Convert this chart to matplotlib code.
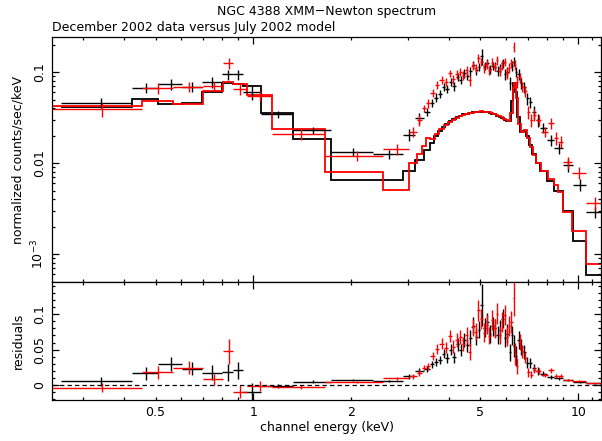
#!/usr/bin/env python3
"""
NGC 4388 XMM-Newton spectrum: December 2002 data folded through the
July 2002 model, with data-minus-model residuals underneath.
"""

import numpy as np
import matplotlib.pyplot as plt
from matplotlib.ticker import FixedLocator, FixedFormatter, LogLocator, NullFormatter, MultipleLocator

# Spectrum 1 (black): channel bin edges (keV), rate, 1-sigma error, model
black_edges = [0.256, 0.4225, 0.510, 0.602, 0.694, 0.799, 0.868, 0.932, 1.054, 1.322,
               1.730, 2.330, 2.882, 3.14, 3.35,
               3.50, 3.60, 3.70, 3.80, 3.90, 4.00, 4.10, 4.20, 4.30, 4.40,
               4.50, 4.60, 4.70, 4.80, 4.90, 5.00, 5.10, 5.20, 5.30, 5.40,
               5.50, 5.60, 5.70, 5.80, 5.90, 6.00, 6.10, 6.20, 6.30, 6.40,
               6.50, 6.60, 6.75, 6.90, 7.05, 7.20, 7.40,
               7.60, 8.00, 8.45, 8.99, 9.65, 10.6, 11.9]
black_rate = [0.0463, 0.0677, 0.0738, 0.0695, 0.0788, 0.095, 0.095, 0.0612, 0.0346, 0.0232,
              0.0134, 0.01265, 0.0205, 0.0313, 0.0369,
              0.046, 0.0526, 0.058, 0.0695, 0.066, 0.079, 0.070, 0.0895, 0.083, 0.0975,
              0.092, 0.102, 0.1203, 0.105, 0.1153, 0.150, 0.118, 0.1256, 0.108, 0.118,
              0.1153, 0.104, 0.1107, 0.125, 0.096, 0.1016, 0.0757, 0.118, 0.1307, 0.1016,
              0.096, 0.0757, 0.069, 0.0518, 0.047, 0.0369, 0.0299,
              0.0245, 0.018, 0.0146, 0.0096, 0.0058, 0.0029]
black_err = [0.006, 0.009, 0.010, 0.0094, 0.011, 0.012, 0.012, 0.012, 0.003, 0.002,
             0.0015, 0.0015, 0.003, 0.004, 0.004,
             0.005, 0.006, 0.006, 0.007, 0.007, 0.008, 0.008, 0.009, 0.009, 0.010,
             0.010, 0.011, 0.012, 0.012, 0.012, 0.030, 0.013, 0.013, 0.013, 0.013,
             0.013, 0.013, 0.013, 0.014, 0.013, 0.013, 0.012, 0.014, 0.015, 0.014,
             0.013, 0.011, 0.010, 0.008, 0.007, 0.006, 0.005,
             0.003, 0.0025, 0.002, 0.0015, 0.0009, 0.0004]
black_model = [0.0412, 0.0513, 0.0445, 0.0464, 0.0612, 0.0769, 0.0743, 0.0707, 0.0355, 0.0185,
               0.00656, 0.00656, 0.0083, 0.0108, 0.014,
               0.0167, 0.0199, 0.0225, 0.0250, 0.0272, 0.0292, 0.0308, 0.0322, 0.0334, 0.0344,
               0.0352, 0.0359, 0.0364, 0.0368, 0.0370, 0.0370, 0.0368, 0.0364, 0.0359, 0.0352,
               0.0344, 0.0334, 0.0323, 0.0311, 0.0298, 0.0290, 0.0295, 0.0480, 0.0757, 0.0600,
               0.0320, 0.0218, 0.0228, 0.0200, 0.0160, 0.0125, 0.0100,
               0.0082, 0.0064, 0.0049, 0.0030, 0.00141, 0.00059]

# Spectrum 2 (red)
red_edges = [0.23, 0.4535, 0.5675, 0.700, 0.809, 0.868, 0.954, 1.139, 1.662, 2.512,
             3.02, 3.183, 3.30, 3.40,
             3.50, 3.62, 3.74, 3.86, 3.98, 4.08, 4.18, 4.28, 4.38, 4.48,
             4.58, 4.68, 4.78, 4.88, 4.98, 5.08, 5.18, 5.28, 5.38, 5.48,
             5.58, 5.68, 5.78, 5.88, 5.98, 6.08, 6.18, 6.28, 6.36, 6.44,
             6.54, 6.66, 6.80, 6.95, 7.10, 7.25,
             7.40, 7.70, 8.05, 8.40, 8.65, 9.00, 9.55, 10.6, 11.9]
red_rate = [0.0392, 0.0667, 0.0695, 0.071, 0.1256, 0.065, 0.0549, 0.021, 0.0120, 0.01435,
            0.0222, 0.030, 0.0402, 0.0456,
            0.0597, 0.0725, 0.0823, 0.079, 0.0975, 0.084, 0.095, 0.100, 0.092, 0.105,
            0.0823, 0.118, 0.112, 0.1425, 0.130, 0.111, 0.122, 0.106, 0.128, 0.115,
            0.135, 0.104, 0.121, 0.130, 0.098, 0.112, 0.125, 0.191, 0.120, 0.079,
            0.088, 0.0695, 0.062, 0.0369, 0.0299, 0.034,
            0.0299, 0.0222, 0.0275, 0.0188, 0.0173, 0.0102, 0.0079, 0.0037]
red_err = [0.0066, 0.0087, 0.009, 0.008, 0.0176, 0.009, 0.007, 0.003, 0.0015, 0.002,
           0.003, 0.004, 0.004, 0.005,
           0.006, 0.007, 0.008, 0.008, 0.009, 0.009, 0.010, 0.010, 0.010, 0.011,
           0.012, 0.012, 0.012, 0.015, 0.014, 0.013, 0.013, 0.012, 0.014, 0.013,
           0.015, 0.013, 0.014, 0.014, 0.013, 0.014, 0.015, 0.026, 0.015, 0.011,
           0.011, 0.009, 0.008, 0.006, 0.005, 0.005,
           0.004, 0.003, 0.004, 0.003, 0.0025, 0.0016, 0.0012, 0.0006]
red_model = [0.043, 0.0488, 0.0452, 0.0628, 0.0777, 0.0743, 0.0563, 0.0238, 0.00796, 0.00509,
             0.0100, 0.0127, 0.0156, 0.0188,
             0.0185, 0.0212, 0.0240, 0.0264, 0.0284, 0.0300, 0.0315, 0.0327, 0.0338, 0.0347,
             0.0355, 0.0361, 0.0366, 0.0369, 0.0371, 0.0370, 0.0367, 0.0362, 0.0356, 0.0349,
             0.0340, 0.0330, 0.0319, 0.0307, 0.0296, 0.0289, 0.0360, 0.0680, 0.0760, 0.0520,
             0.0270, 0.0220, 0.0232, 0.0190, 0.0150, 0.0122,
             0.0100, 0.0082, 0.0068, 0.0058, 0.0048, 0.0029, 0.00178, 0.00079]

SPECTRA = [
    (black_edges, black_rate, black_err, black_model, "black"),
    (red_edges, red_rate, red_err, red_model, "#ff0000"),
]

W, H = 602, 441
X0, X1 = 52, 601
TOP_Y0, SPLIT_Y, BOT_Y1 = 37, 282, 400


def style_axis(ax):
    ax.set_xscale("log")
    ax.set_xlim(0.24, 11.75)
    ax.tick_params(which="both", direction="in", top=True, right=True,
                   width=0.9, labelsize=9, pad=4)
    ax.tick_params(which="major", length=5)
    ax.tick_params(which="minor", length=2.5)
    for s in ax.spines.values():
        s.set_linewidth(0.9)
    ax.xaxis.set_major_locator(FixedLocator([1, 10]))
    ax.xaxis.set_minor_locator(FixedLocator(
        [0.3, 0.4, 0.5, 0.6, 0.7, 0.8, 0.9, 2, 3, 4, 5, 6, 7, 8, 9, 11]))


def main():
    fig = plt.figure(figsize=(W / 100, H / 100), dpi=100)
    ax = fig.add_axes([X0 / W, 1 - SPLIT_Y / H, (X1 - X0) / W, (SPLIT_Y - TOP_Y0) / H])
    axr = fig.add_axes([X0 / W, 1 - BOT_Y1 / H, (X1 - X0) / W, (BOT_Y1 - SPLIT_Y) / H])

    for edges, rate, err, model, color in SPECTRA:
        edges = np.asarray(edges)
        rate = np.asarray(rate)
        err = np.asarray(err)
        model = np.asarray(model)
        lo, hi = edges[:-1], edges[1:]
        mid = 0.5 * (lo + hi)
        xerr = [mid - lo, hi - mid]

        ax.errorbar(mid, rate, xerr=xerr, yerr=err, fmt="none",
                    ecolor=color, elinewidth=1.0, capsize=0)
        ax.stairs(model, edges, baseline=None, color=color, lw=1.3)

        axr.errorbar(mid, rate - model, xerr=xerr, yerr=err, fmt="none",
                     ecolor=color, elinewidth=1.0, capsize=0)

    # upper panel
    style_axis(ax)
    ax.set_yscale("log")
    ax.set_ylim(4.96e-4, 0.244)
    ax.yaxis.set_major_locator(FixedLocator([1e-3, 1e-2, 1e-1]))
    ax.yaxis.set_major_formatter(FixedFormatter(["10$^{-3}$", "0.01", "0.1"]))
    ax.yaxis.set_minor_locator(LogLocator(base=10, subs=np.arange(2, 10)))
    ax.yaxis.set_minor_formatter(NullFormatter())
    ax.tick_params(axis="x", which="both", labelbottom=False)

    # residual panel
    style_axis(axr)
    axr.set_ylim(-0.0211, 0.1455)
    axr.yaxis.set_major_locator(FixedLocator([0, 0.05, 0.1]))
    axr.yaxis.set_major_formatter(FixedFormatter(["0", "0.05", "0.1"]))
    axr.yaxis.set_minor_locator(MultipleLocator(0.01))
    axr.xaxis.set_major_formatter(FixedFormatter(["1", "10"]))
    minor_labels = {0.5: "0.5", 2: "2", 5: "5"}
    axr.xaxis.set_minor_formatter(FixedFormatter(
        [minor_labels.get(v, "") for v in
         [0.3, 0.4, 0.5, 0.6, 0.7, 0.8, 0.9, 2, 3, 4, 5, 6, 7, 8, 9, 11]]))
    axr.tick_params(axis="x", which="both", labelsize=9, pad=4)
    axr.axhline(0, color="black", lw=0.9, ls=(0, (3.5, 2.5)))

    for a in (ax, axr):
        for lbl in a.get_yticklabels():
            lbl.set_rotation(90)
            lbl.set_verticalalignment("center")

    fig.text(327 / W, 1 - 12 / H, "NGC 4388 XMM\u2212Newton spectrum",
             ha="center", va="center", fontsize=9)
    fig.text(X0 / W, 1 - 27 / H, "December 2002 data versus July 2002 model",
             ha="left", va="center", fontsize=9)
    fig.text(18 / W, 1 - 160 / H, "normalized counts/sec/keV",
             rotation=90, ha="center", va="center", fontsize=9)
    fig.text(18 / W, 1 - 341 / H, "residuals",
             rotation=90, ha="center", va="center", fontsize=9)
    fig.text(327 / W, 1 - 428 / H, "channel energy (keV)",
             ha="center", va="center", fontsize=9)

    fig.savefig("out.png", dpi=100, facecolor="white")
    plt.close(fig)


if __name__ == "__main__":
    main()
